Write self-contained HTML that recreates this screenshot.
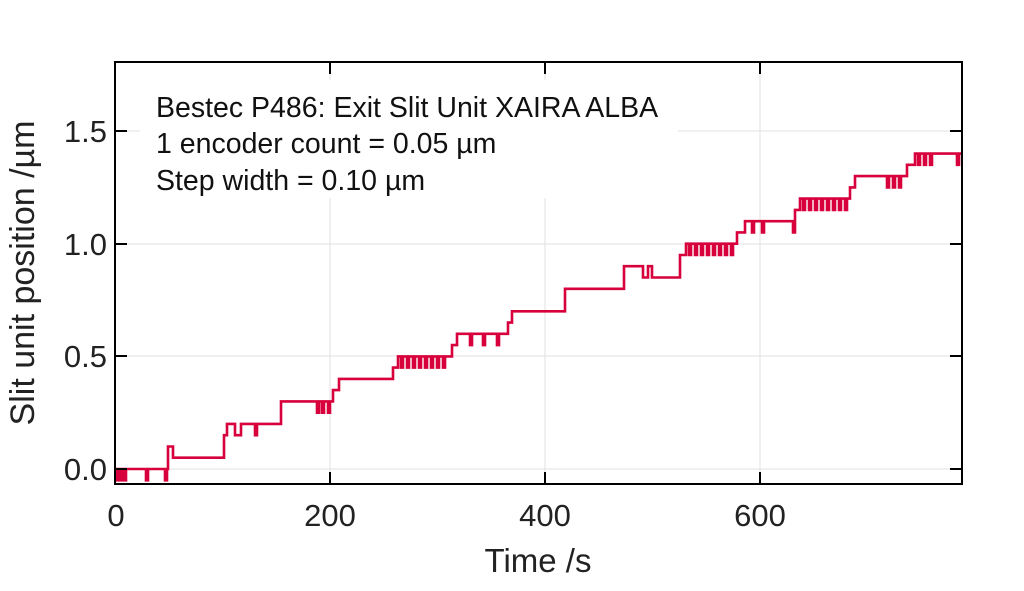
<!DOCTYPE html>
<html><head><meta charset="utf-8"><style>
html,body{margin:0;padding:0;background:#fff;}
svg{display:block;font-family:"Liberation Sans",sans-serif;}
</style></head><body>
<svg width="1024" height="591" viewBox="0 0 1024 591" xmlns="http://www.w3.org/2000/svg">
<rect width="1024" height="591" fill="#fff"/>
<g stroke="#e2e2e2" stroke-width="1">
<line x1="330" y1="62" x2="330" y2="484"/>
<line x1="545" y1="62" x2="545" y2="484"/>
<line x1="760" y1="62" x2="760" y2="484"/>
<line x1="115" y1="469" x2="962" y2="469"/>
<line x1="115" y1="356" x2="962" y2="356"/>
<line x1="115" y1="244" x2="962" y2="244"/>
<line x1="115" y1="131" x2="962" y2="131"/>
</g>
<rect x="140" y="80" width="538" height="118" fill="#fff"/>
<path fill="none" stroke="#d7003c" stroke-width="2.6" stroke-linejoin="miter" d="M115 469 H117 V480.3 H119 V469 H120 V480.3 H122 V469 H124 V480.3 H126 V469 H146 V480.3 H148 V469 H165 V480.3 H167 V469 H168 V446.5 H173 V457.7 H224 V435.2 H227 V423.9 H235 V435.2 H241 V423.9 H255 V435.2 H257 V423.9 H281 V401.4 H317 V412.7 H319 V401.4 H322 V412.7 H324 V401.4 H328 V412.7 H330 V401.4 H333 V390.1 H339 V378.9 H393 V367.6 H398 V356.4 H401 V367.6 H403 V356.4 H407 V367.6 H409 V356.4 H413 V367.6 H415 V356.4 H419 V367.6 H421 V356.4 H425 V367.6 H427 V356.4 H431 V367.6 H433 V356.4 H437 V367.6 H439 V356.4 H443 V367.6 H445 V356.4 H452 V345.1 H457 V333.8 H470 V345.1 H472 V333.8 H483 V345.1 H485 V333.8 H497 V345.1 H499 V333.8 H508 V322.6 H512 V311.3 H565 V288.8 H624 V266.2 H643 V277.5 H648 V266.2 H652 V277.5 H680 V255 H686 V243.7 H689 V255 H691 V243.7 H695 V255 H697 V243.7 H701 V255 H703 V243.7 H707 V255 H709 V243.7 H713 V255 H715 V243.7 H719 V255 H721 V243.7 H725 V255 H727 V243.7 H731 V255 H733 V243.7 H737 V232.4 H745 V221.2 H752 V232.4 H754 V221.2 H762 V232.4 H764 V221.2 H793 V232.4 H795 V209.9 H800 V198.6 H803 V209.9 H805 V198.6 H809 V209.9 H811 V198.6 H815 V209.9 H817 V198.6 H821 V209.9 H823 V198.6 H827 V209.9 H829 V198.6 H833 V209.9 H835 V198.6 H839 V209.9 H841 V198.6 H845 V209.9 H847 V198.6 H850 V187.4 H855 V176.1 H887 V187.4 H889 V176.1 H893 V187.4 H895 V176.1 H899 V187.4 H901 V176.1 H907 V164.8 H915 V153.6 H918 V164.8 H920 V153.6 H924 V164.8 H926 V153.6 H930 V164.8 H932 V153.6 H957 V164.8 H959 V153.6 H962"/>
<rect x="115" y="62" width="847" height="422" fill="none" stroke="#000" stroke-width="2"/>
<g stroke="#000" stroke-width="2">
<line x1="115" y1="469" x2="127" y2="469"/><line x1="962" y1="469" x2="950" y2="469"/>
<line x1="115" y1="356" x2="127" y2="356"/><line x1="962" y1="356" x2="950" y2="356"/>
<line x1="115" y1="244" x2="127" y2="244"/><line x1="962" y1="244" x2="950" y2="244"/>
<line x1="115" y1="131" x2="127" y2="131"/><line x1="962" y1="131" x2="950" y2="131"/>
<line x1="330" y1="484" x2="330" y2="472"/><line x1="330" y1="62" x2="330" y2="74"/>
<line x1="545" y1="484" x2="545" y2="472"/><line x1="545" y1="62" x2="545" y2="74"/>
<line x1="760" y1="484" x2="760" y2="472"/><line x1="760" y1="62" x2="760" y2="74"/>
</g>
<g font-size="31" fill="#222" text-anchor="end">
<text x="107" y="480">0.0</text>
<text x="107" y="367">0.5</text>
<text x="107" y="255">1.0</text>
<text x="107" y="142">1.5</text>
</g>
<g font-size="31" fill="#222" text-anchor="middle">
<text x="116" y="526">0</text>
<text x="330" y="526">200</text>
<text x="545" y="526">400</text>
<text x="760" y="526">600</text>
<text x="538" y="572" font-size="33">Time /s</text>
</g>
<text transform="translate(34,273) rotate(-90)" font-size="34" fill="#222" text-anchor="middle">Slit unit position /µm</text>
<g font-size="28.5" fill="#111">
<text x="156" y="117">Bestec P486: Exit Slit Unit XAIRA ALBA</text>
<text x="156" y="153">1 encoder count = 0.05 µm</text>
<text x="156" y="190">Step width = 0.10 µm</text>
</g>
</svg>
</body></html>
